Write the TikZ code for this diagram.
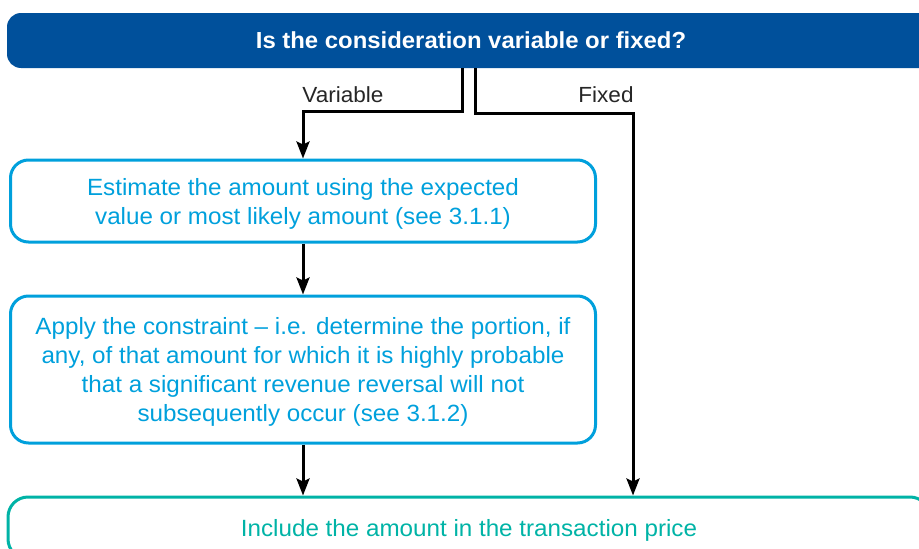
\documentclass[tikz,border=0pt]{standalone}
\usepackage{fontspec}
\setmainfont{Liberation Sans}[FakeStretch=1.03]
\usetikzlibrary{arrows.meta}
\definecolor{darkblue}{HTML}{00509B}
\definecolor{lightblue}{HTML}{00A0DC}
\definecolor{teal}{HTML}{00B3A6}
\begin{document}
\begin{tikzpicture}[x=1pt, y=-1pt,
		stepbox/.style={draw=lightblue, line width=3pt, rounded corners=18pt, text=lightblue, align=center, minimum width=585pt, inner sep=0pt, text depth=0pt, font=\fontsize{23.5}{29}\selectfont},
		arr/.style={line width=3pt, -{Stealth[length=17pt, width=13pt, inset=3pt]}},
		lbl/.style={font=\fontsize{21.9}{25}\selectfont, text=black!85}]
		\useasboundingbox (0,0) rectangle (919,549);
		
		%question bar
		\node (q) at (471,40.5) [fill=darkblue, rounded corners=14pt, minimum width=928pt, minimum height=55pt, text=white, font=\bfseries\fontsize{23.2}{25}\selectfont]{Is the consideration variable or fixed?};
		
		%boxes
		\node (est) at (303,201) [stepbox, minimum height=82pt]{Estimate the amount using the expected\\value or most likely amount (see 3.1.1)};
		\node (con) at (303,369.5) [stepbox, minimum height=147pt]{Apply the constraint -- i.e. determine the portion, if\\any, of that amount for which it is highly probable\\that a significant revenue reversal will not\\subsequently occur (see 3.1.2)};
		\node (inc) at (469,528) [stepbox, draw=teal, text=teal, minimum width=922pt, minimum height=62pt, rounded corners=20pt]{Include the amount in the transaction price};
		
		%branch labels
		\node (var) at (343,95) [lbl]{Variable};
		\node (fix) at (606,95) [lbl]{Fixed};
		
		%connectors
		\coordinate (fixbend) at (633,113);
		\draw[arr] ([xshift=-9pt]q.south) |- ([yshift=47pt]est.north) -- (est.north);
		\draw[arr] ([xshift=4pt]q.south) |- (fixbend) -- (fixbend |- inc.north);
		\draw[arr] (est.south) -- (con.north);
		\draw[arr] (con.south) -- (con.south |- inc.north);
		\end{tikzpicture}
\end{document}
